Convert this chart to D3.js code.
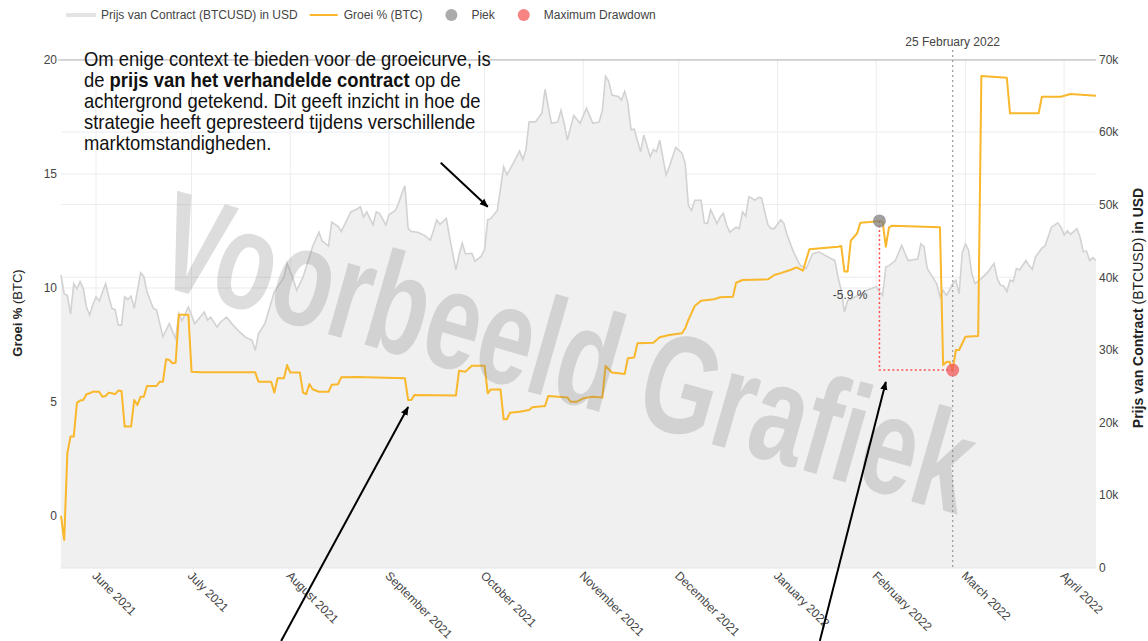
<!DOCTYPE html>
<html><head><meta charset="utf-8">
<script src="https://cdn.jsdelivr.net/npm/d3@7"></script>
<style>
body{margin:0;background:#fff;}
svg{display:block;}
text{font-family:"Liberation Sans",Arial,sans-serif;}
</style></head>
<body><svg id="chart" width="1148" height="641"></svg>
<script>
// ---------------- DATA ----------------
const priceDates = ["2021-05-21","2021-05-22","2021-05-23","2021-05-24","2021-05-25","2021-05-26","2021-05-27","2021-05-28","2021-05-29","2021-05-30","2021-05-31",
"2021-06-01","2021-06-02","2021-06-04","2021-06-05","2021-06-06","2021-06-07","2021-06-08","2021-06-09","2021-06-10","2021-06-11","2021-06-12","2021-06-13","2021-06-15","2021-06-16","2021-06-17","2021-06-19","2021-06-20","2021-06-22","2021-06-24","2021-06-26","2021-06-27","2021-06-28","2021-06-30",
"2021-07-02","2021-07-05","2021-07-06","2021-07-07","2021-07-09","2021-07-10","2021-07-12","2021-07-14","2021-07-16","2021-07-18","2021-07-20","2021-07-21","2021-07-22","2021-07-24","2021-07-27","2021-07-30","2021-07-31",
"2021-08-02","2021-08-03","2021-08-05","2021-08-08","2021-08-10","2021-08-11","2021-08-13","2021-08-14","2021-08-16","2021-08-17","2021-08-20","2021-08-22","2021-08-23","2021-08-24","2021-08-25","2021-08-27","2021-08-28","2021-08-29","2021-08-31",
"2021-09-01","2021-09-03","2021-09-04","2021-09-05","2021-09-06","2021-09-07","2021-09-08","2021-09-10","2021-09-12","2021-09-14","2021-09-16","2021-09-17","2021-09-19","2021-09-20","2021-09-22","2021-09-23","2021-09-24","2021-09-25","2021-09-27","2021-09-28","2021-09-30",
"2021-10-01","2021-10-02","2021-10-03","2021-10-05","2021-10-06","2021-10-07","2021-10-08","2021-10-10","2021-10-12","2021-10-13","2021-10-14","2021-10-15","2021-10-17","2021-10-19","2021-10-20","2021-10-21","2021-10-22","2021-10-24","2021-10-25","2021-10-26","2021-10-27","2021-10-29","2021-10-31",
"2021-11-02","2021-11-04","2021-11-06","2021-11-07","2021-11-08","2021-11-09","2021-11-10","2021-11-12","2021-11-13","2021-11-14","2021-11-15","2021-11-16","2021-11-17","2021-11-19","2021-11-20","2021-11-22","2021-11-23","2021-11-24","2021-11-25","2021-11-27","2021-11-28","2021-11-30",
"2021-12-01","2021-12-02","2021-12-03","2021-12-04","2021-12-05","2021-12-06","2021-12-08","2021-12-09","2021-12-10","2021-12-11","2021-12-13","2021-12-14","2021-12-15","2021-12-16","2021-12-17","2021-12-19","2021-12-20","2021-12-21","2021-12-22","2021-12-23","2021-12-25","2021-12-26","2021-12-27","2021-12-28","2021-12-29","2021-12-30","2021-12-31",
"2022-01-02","2022-01-03","2022-01-04","2022-01-06","2022-01-08","2022-01-10","2022-01-12","2022-01-14","2022-01-16","2022-01-19","2022-01-20","2022-01-21","2022-01-22","2022-01-23","2022-01-25","2022-01-27","2022-01-29",
"2022-02-01","2022-02-02","2022-02-03","2022-02-04","2022-02-05","2022-02-07","2022-02-09","2022-02-10","2022-02-11","2022-02-14","2022-02-15","2022-02-16","2022-02-17","2022-02-19","2022-02-20","2022-02-21","2022-02-22","2022-02-23","2022-02-24","2022-02-25","2022-02-26","2022-02-27","2022-02-28",
"2022-03-01","2022-03-02","2022-03-03","2022-03-04","2022-03-06","2022-03-08","2022-03-10","2022-03-11","2022-03-12","2022-03-13","2022-03-14","2022-03-15","2022-03-16","2022-03-17","2022-03-18","2022-03-20","2022-03-21","2022-03-22","2022-03-23","2022-03-25","2022-03-26","2022-03-28","2022-03-30","2022-03-31",
"2022-04-01","2022-04-02","2022-04-03","2022-04-05","2022-04-06","2022-04-07","2022-04-08","2022-04-09","2022-04-10","2022-04-11"];
const priceValues = [40300,37700,37500,34900,39100,38400,39400,38400,35900,34800,36200,
37300,36700,39100,37300,35700,35500,33400,33400,37300,36900,37400,35700,40600,40100,38000,35700,35500,31800,33600,31500,35000,34000,35900,
33600,35200,34100,34500,33100,33800,34500,33400,32500,31700,31300,29900,32200,33600,38000,40000,41900,
39600,38200,40000,44200,46200,45000,44300,47600,47000,46300,49000,49400,49700,48300,49000,47200,49000,48800,47200,
48600,49200,50200,51500,52600,46700,46300,46200,45800,45100,47900,47300,48100,45600,41000,43100,44700,43200,43300,42200,42900,
43800,47900,48100,49200,52200,55200,54100,55700,57400,56200,57600,61400,61400,62600,65900,63500,61200,61400,63000,61200,58900,62300,61200,
63300,61200,61400,63000,67700,67000,65100,64900,64400,65600,64000,60300,60400,57300,59600,56600,57600,57300,58900,54100,55200,57900,
57500,57100,55700,49900,49200,50600,50600,47500,47400,49300,47400,48300,48800,47200,46200,46900,46700,49000,48400,51100,50600,51000,50900,49000,47200,46700,46700,
47900,47400,45800,43500,41700,41200,43200,43500,43000,42300,40000,38200,35200,36800,37200,37700,38200,
38700,38000,37500,41400,41600,42300,44400,43300,42300,42500,44600,44200,41200,39800,39100,37300,38200,37500,38200,39100,39600,37700,43300,
44600,43700,40500,39100,39800,40700,41900,39800,38900,38800,38000,39600,39400,41200,41000,42300,41600,41100,42800,44000,44300,46900,47500,46900,
45800,46400,45900,46700,45500,43500,43600,42300,42700,42300];

const growthDates = ["2021-05-21","2021-05-22","2021-05-23","2021-05-24","2021-05-25","2021-05-26","2021-05-27","2021-05-28","2021-05-29","2021-05-30","2021-05-31",
"2021-06-02","2021-06-03","2021-06-04","2021-06-05","2021-06-06","2021-06-07","2021-06-08","2021-06-09","2021-06-10","2021-06-12","2021-06-13","2021-06-14","2021-06-15","2021-06-16","2021-06-17","2021-06-20","2021-06-21","2021-06-22","2021-06-23","2021-06-24","2021-06-25","2021-06-26","2021-06-27","2021-06-30",
"2021-07-01","2021-07-04","2021-07-21","2021-07-22","2021-07-26","2021-07-27","2021-07-28","2021-07-30","2021-07-31",
"2021-08-01","2021-08-04","2021-08-05","2021-08-06","2021-08-07","2021-08-08","2021-08-10","2021-08-13","2021-08-14","2021-08-16","2021-08-17","2021-08-22",
"2021-09-06","2021-09-07","2021-09-08","2021-09-09","2021-09-22","2021-09-23","2021-09-25","2021-09-27",
"2021-10-01","2021-10-02","2021-10-03","2021-10-06","2021-10-07","2021-10-08","2021-10-09","2021-10-12","2021-10-15","2021-10-16","2021-10-20","2021-10-21","2021-10-27","2021-10-28","2021-10-30",
"2021-11-01","2021-11-04","2021-11-07","2021-11-08","2021-11-10","2021-11-14","2021-11-15","2021-11-17","2021-11-18","2021-11-23","2021-11-25","2021-11-28",
"2021-12-02","2021-12-03","2021-12-04","2021-12-06","2021-12-08","2021-12-12","2021-12-14","2021-12-18","2021-12-19","2021-12-21","2021-12-29","2021-12-31",
"2022-01-02","2022-01-05","2022-01-07","2022-01-09","2022-01-11","2022-01-20","2022-01-21","2022-01-22","2022-01-23","2022-01-24","2022-01-26","2022-01-27","2022-01-30",
"2022-02-02","2022-02-03","2022-02-04","2022-02-05","2022-02-06","2022-02-21","2022-02-22","2022-02-23","2022-02-24","2022-02-25","2022-02-26","2022-02-27",
"2022-03-01","2022-03-05","2022-03-06","2022-03-14","2022-03-15","2022-03-24","2022-03-25","2022-03-31","2022-04-03","2022-04-11"];
const growthValues = [0.0,-1.05,2.76,3.48,3.48,4.96,5.06,5.09,5.34,5.38,5.45,
5.45,5.23,5.26,5.41,5.38,5.34,5.50,5.48,3.92,3.92,5.09,4.87,5.23,5.23,5.70,5.70,5.89,5.89,6.87,6.84,6.70,6.72,8.82,8.82,
6.33,6.30,6.30,5.89,5.89,5.41,6.04,6.04,6.62,
6.29,6.29,5.41,5.34,5.79,5.56,5.45,5.45,5.75,5.78,6.08,6.10,
6.04,5.09,5.09,5.31,5.28,6.37,6.33,6.59,
6.59,5.38,5.55,5.55,4.24,4.24,4.53,4.57,4.65,4.77,4.82,5.26,5.20,5.01,5.01,
5.16,5.23,5.20,6.58,6.29,6.23,6.92,6.95,7.57,7.60,7.84,7.94,
8.01,8.23,8.60,9.21,9.44,9.50,9.59,9.62,10.23,10.35,10.38,10.57,
10.65,10.79,10.90,10.76,11.70,11.81,11.84,10.72,10.72,12.08,12.40,12.86,12.89,
12.94,12.91,11.81,12.66,12.73,12.66,6.62,6.75,6.76,6.40,7.28,7.28,
7.86,7.89,19.30,19.22,17.66,17.66,18.39,18.39,18.51,18.43];

const monthTicks = ["2021-06-01","2021-07-01","2021-08-01","2021-09-01","2021-10-01","2021-11-01","2021-12-01","2022-01-01","2022-02-01","2022-03-01","2022-04-01"];
const leftTicks = [0,5,10,15,20];
const rightTicks = [0,10000,20000,30000,40000,50000,60000,70000];
const legendLabels = ["Prijs van Contract (BTCUSD) in USD","Groei % (BTC)","Piek","Maximum Drawdown"];
const peakPoint = {date:"2022-02-02", value:12.94};
const troughPoint = {date:"2022-02-25", value:6.40};
const drawdownLabel = "-5.9 %";
const markerDate = "2022-02-25";
const markerLabel = "25 February 2022";
const watermarkText = "Voorbeeld Grafiek";
const noteLines = [
  [["Om enige context te bieden voor de groeicurve, is",false]],
  [["de ",false],["prijs van het verhandelde contract",true],[" op de",false]],
  [["achtergrond getekend. Dit geeft inzicht in hoe de",false]],
  [["strategie heeft gepresteerd tijdens verschillende",false]],
  [["marktomstandigheden.",false]]
];
// arrows: anchor in data coordinates, tail offset in px
const arrows = [
  {date:"2021-10-02", axis:"right", value:49700, dx:-47, dy:-44},
  {date:"2021-09-07", axis:"left", value:4.78, dx:-127, dy:234},
  {date:"2022-02-04", axis:"left", value:5.88, dx:-66, dy:259}
];

// ---------------- CHART ----------------
const parse = d3.timeParse("%Y-%m-%d");
const svg = d3.select("#chart");
const L = 61, R = 1096, T = 59.5, B = 567.5;

const x = d3.scaleTime().domain([parse("2021-05-21"), parse("2022-04-11")]).range([L, R]);
const yL = d3.scaleLinear().domain([-2.26, 20.02]).range([B, T]);
const yR = d3.scaleLinear().domain([0, 70000]).range([B, T]);

const price = priceDates.map((d,i)=>({date:parse(d), v:priceValues[i]}));
const growth = growthDates.map((d,i)=>({date:parse(d), v:growthValues[i]}));

// grid
const grid = svg.append("g");
grid.selectAll(".vg").data(monthTicks).join("line")
  .attr("x1",d=>x(parse(d))).attr("x2",d=>x(parse(d)))
  .attr("y1",T).attr("y2",B).attr("stroke","#ececec").attr("stroke-width",1);
grid.selectAll(".hgl").data(leftTicks).join("line")
  .attr("x1",L).attr("x2",R).attr("y1",d=>yL(d)).attr("y2",d=>yL(d))
  .attr("stroke",d=>d===0?"#dfe2e8":"#e9ecf2").attr("stroke-width",d=>d===0?2:1);
grid.selectAll(".hgr").data(rightTicks).join("line")
  .attr("x1",L).attr("x2",R).attr("y1",d=>yR(d)).attr("y2",d=>yR(d))
  .attr("stroke",d=>d===0?"#e2e5eb":"#e9ecf2").attr("stroke-width",d=>d===0?2:1);

// price area + line
svg.append("path").datum(price)
  .attr("d", d3.area().x(d=>x(d.date)).y0(yR(0)).y1(d=>yR(d.v)))
  .attr("fill","#f0f0f0");
svg.append("path").datum(price)
  .attr("d", d3.line().x(d=>x(d.date)).y(d=>yR(d.v)))
  .attr("fill","none").attr("stroke","#d2d2d2").attr("stroke-width",1.6);

// top line
svg.append("line").attr("x1",L-3).attr("x2",R).attr("y1",yL(20)).attr("y2",yL(20))
  .attr("stroke","#b8b8b8").attr("stroke-width",1);

// marker dotted line
const mx = x(parse(markerDate));
svg.append("line").attr("x1",mx).attr("x2",mx).attr("y1",50).attr("y2",B)
  .attr("stroke","#999").attr("stroke-width",1.2).attr("stroke-dasharray","2,3");
svg.append("text").attr("x",mx).attr("y",46).attr("text-anchor","middle")
  .attr("font-size",12).attr("fill","#444").text(markerLabel);

// growth line
svg.append("path").datum(growth)
  .attr("d", d3.line().x(d=>x(d.date)).y(d=>yL(d.v)))
  .attr("fill","none").attr("stroke","#f9b72b").attr("stroke-width",2).attr("stroke-linejoin","round");

// drawdown
const px = x(parse(peakPoint.date)), py = yL(peakPoint.value);
const tx = x(parse(troughPoint.date)), ty = yL(troughPoint.value);
svg.append("path").attr("d",`M${px},${py}V${ty}H${tx}`)
  .attr("fill","none").attr("stroke","#ff4d4d").attr("stroke-width",1.5).attr("stroke-dasharray","2,2.5");
svg.append("text").attr("x",px-12).attr("y",(py+ty)/2+4).attr("text-anchor","end")
  .attr("font-size",12).attr("fill","#444").text(drawdownLabel);
svg.append("circle").attr("cx",px).attr("cy",py).attr("r",6.5).attr("fill","rgba(128,128,128,0.75)");
svg.append("circle").attr("cx",tx).attr("cy",ty).attr("r",6.5).attr("fill","rgba(240,90,90,0.75)");

// axes
const axL = svg.append("g").attr("transform",`translate(${L},0)`)
  .call(d3.axisLeft(yL).tickValues(leftTicks).tickSize(0).tickPadding(4));
const axR = svg.append("g").attr("transform",`translate(${R},0)`)
  .call(d3.axisRight(yR).tickValues(rightTicks).tickSize(0).tickPadding(3)
    .tickFormat(d=>d===0?"0":(d/1000)+"k"));
const axX = svg.append("g").attr("transform",`translate(0,${B})`)
  .call(d3.axisBottom(x).tickValues(monthTicks.map(parse)).tickSize(0)
    .tickFormat(d3.timeFormat("%B %Y")));
[axL,axR,axX].forEach(a=>{
  a.select(".domain").remove();
  a.selectAll("text").attr("font-size",12).attr("fill","#444")
    .attr("font-family",'"Liberation Sans",Arial,sans-serif');
});
axX.selectAll("text").attr("x",0).attr("y",0).attr("dy","0.35em")
  .attr("text-anchor","start").attr("transform","translate(-2,6) rotate(45)");

// axis titles
const tl = svg.append("text").attr("transform","translate(22,313) rotate(-90)")
  .attr("text-anchor","middle").attr("font-size",13).attr("fill","#222");
tl.append("tspan").attr("font-weight","bold").text("Groei %");
tl.append("tspan").text(" (BTC)");
const tr = svg.append("text").attr("transform","translate(1143,308) rotate(-90)")
  .attr("text-anchor","middle").attr("font-size",14).attr("fill","#222");
tr.append("tspan").attr("font-weight","bold").text("Prijs van Contract ");
tr.append("tspan").text("(BTCUSD)");
tr.append("tspan").attr("font-weight","bold").text(" in USD");

// watermark
svg.append("text").attr("transform","translate(150,283) rotate(16)")
  .attr("font-family","Roboto, sans-serif").attr("font-weight","900")
  .attr("font-size",140).attr("textLength",840).attr("lengthAdjust","spacingAndGlyphs")
  .attr("fill","rgba(120,120,120,0.25)").text(watermarkText);

// annotation note
const note = svg.append("g");
const noteText = note.append("text").attr("font-family","Roboto, sans-serif")
  .attr("font-size",20).attr("fill","#111");
noteLines.forEach((line,i)=>{
  line.forEach(([s,b],j)=>{
    const sp = noteText.append("tspan").text(s).attr("font-weight",b?"bold":"normal");
    if(j===0) sp.attr("x",0).attr("y",i*21);
  });
});
const firstW = (()=>{const tmp = svg.append("text").attr("font-family","Roboto, sans-serif").attr("font-size",20).text(noteLines[0][0][0]); const w = tmp.node().getComputedTextLength(); tmp.remove(); return w;})();
const sx = 407/firstW;
note.attr("transform",`translate(84,65.7) scale(${sx},1)`);

// arrows
const defs = svg.append("defs");
defs.append("marker").attr("id","ah").attr("viewBox","0 0 10 10").attr("refX",9).attr("refY",5)
  .attr("markerWidth",9).attr("markerHeight",9).attr("markerUnits","userSpaceOnUse").attr("orient","auto")
  .append("path").attr("d","M0,1 L10,5 L0,9 z").attr("fill","#000");
arrows.forEach(a=>{
  const ax = x(parse(a.date)), ay = a.axis==="left" ? yL(a.value) : yR(a.value);
  svg.append("line").attr("x1",ax+a.dx).attr("y1",ay+a.dy).attr("x2",ax).attr("y2",ay)
    .attr("stroke","#000").attr("stroke-width",2).attr("marker-end","url(#ah)");
});

// legend
const lg = svg.append("g").attr("transform","translate(0,15)");
let cx = 66;
legendLabels.forEach((lab,i)=>{
  if(i===0){ lg.append("line").attr("x1",cx).attr("x2",cx+30).attr("stroke","#e4e4e4").attr("stroke-width",4); cx+=35; }
  else if(i===1){ lg.append("line").attr("x1",cx).attr("x2",cx+28).attr("stroke","#f9b72b").attr("stroke-width",2); cx+=34; }
  else { lg.append("circle").attr("cx",cx+17).attr("cy",0).attr("r",6).attr("fill",i===2?"rgba(150,150,150,0.8)":"rgba(245,100,100,0.8)"); cx+=37; }
  const t = lg.append("text").attr("x",cx).attr("y",4).attr("font-size",12).attr("fill","#444").text(lab);
  cx += t.node().getComputedTextLength() + 12;
});
</script></body></html>
